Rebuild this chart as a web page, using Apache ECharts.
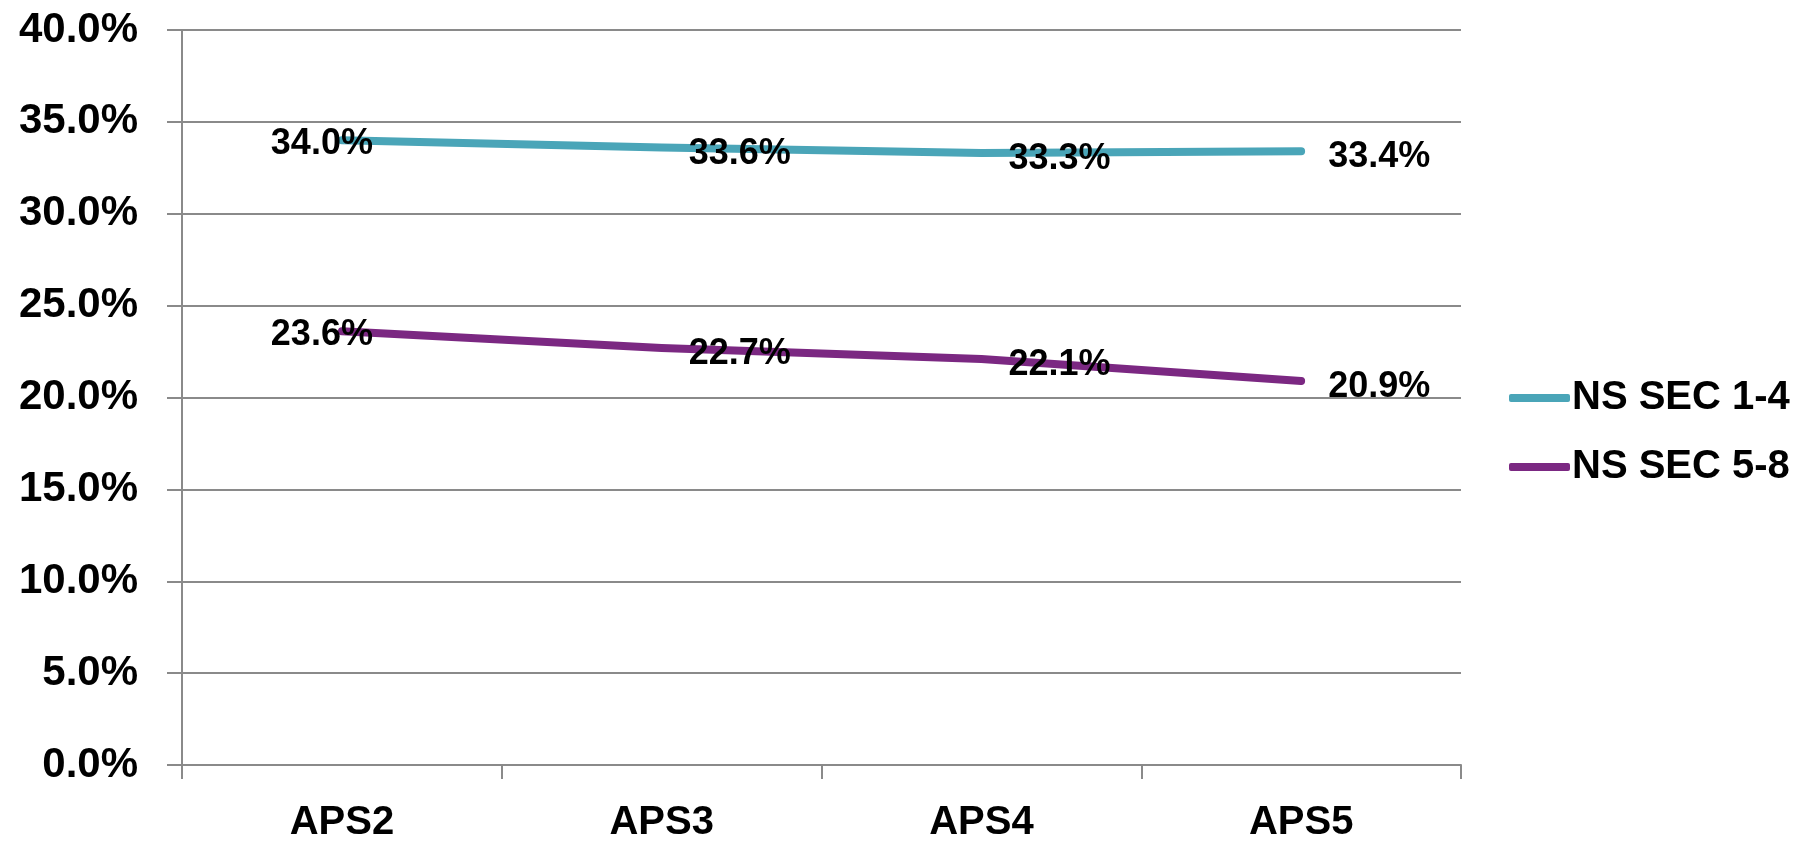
<!DOCTYPE html>
<html>
<head>
<meta charset="utf-8">
<script src="https://cdn.jsdelivr.net/npm/echarts@6/dist/echarts.min.js"></script>
<style>
  html, body { margin: 0; padding: 0; background: #fff; }
  #chart { width: 1804px; height: 843px; }
</style>
</head>
<body>
<div id="chart"></div>
<script>
// Survey waves along the x axis
const categories = ['APS2', 'APS3', 'APS4', 'APS5'];
// Share (%) for each socio-economic group
const nsSec14 = [34.0, 33.6, 33.3, 33.4];
const nsSec58 = [23.6, 22.7, 22.1, 20.9];
const seriesNames = ['NS SEC 1-4', 'NS SEC 5-8'];
const yTicks = { min: 0, max: 40, interval: 5 };

const FONT = '"Liberation Sans Narrow", "Liberation Sans", Arial, sans-serif';
const GRID_GRAY = '#8a8a8a';
const COLORS = ['#4aa5b8', '#7b2882'];

// First point carries its label over the line; the others sit to the right
function withLabels(values) {
  return values.map((v, i) => i === 0
    ? { value: v, label: { position: 'inside', offset: [-20, 4] } }
    : { value: v });
}

function lineSeries(name, values, color) {
  return {
    name: name,
    type: 'line',
    data: withLabels(values),
    symbol: 'circle',
    symbolSize: 2,
    smooth: false,
    itemStyle: { color: color },
    lineStyle: { color: color, width: 8, cap: 'round', join: 'round' },
    label: {
      show: true,
      position: 'right',
      distance: 26,
      offset: [0, 6],
      formatter: p => p.value.toFixed(1) + '%',
      fontFamily: FONT,
      fontWeight: 'bold',
      fontSize: 36,
      color: '#000'
    },
    emphasis: { disabled: true },
    animation: false
  };
}

const chart = echarts.init(document.getElementById('chart'), null, { renderer: 'canvas' });
chart.setOption({
  backgroundColor: '#fff',
  grid: { left: 182, right: 343, top: 30, bottom: 74, containLabel: false },
  legend: {
    orient: 'vertical',
    left: 1504,
    top: 373,
    itemWidth: 61,
    itemHeight: 8,
    itemGap: 29,
    icon: 'roundRect',
    data: seriesNames.map((n, i) => ({
      name: n,
      itemStyle: { color: COLORS[i] },
      lineStyle: { color: COLORS[i], width: 8, cap: 'round' }
    })),
    textStyle: { fontFamily: FONT, fontWeight: 'bold', fontSize: 40, color: '#000', padding: [0, 0, 0, -3] }
  },
  xAxis: {
    type: 'category',
    data: categories,
    boundaryGap: true,
    axisLine: { show: true, lineStyle: { color: GRID_GRAY, width: 2 } },
    axisTick: { show: true, length: 14, lineStyle: { color: GRID_GRAY, width: 2 } },
    axisLabel: { margin: 38, fontFamily: FONT, fontWeight: 'bold', fontSize: 40, color: '#000' }
  },
  yAxis: {
    type: 'value',
    min: yTicks.min,
    max: yTicks.max,
    interval: yTicks.interval,
    axisLine: { show: true, lineStyle: { color: GRID_GRAY, width: 2 } },
    axisTick: { show: true, length: 15, lineStyle: { color: GRID_GRAY, width: 2 } },
    splitLine: { show: true, lineStyle: { color: GRID_GRAY, width: 2 } },
    axisLabel: {
      margin: 44,
      formatter: v => v.toFixed(1) + '%',
      fontFamily: FONT, fontWeight: 'bold', fontSize: 42, color: '#000'
    }
  },
  series: [
    lineSeries(seriesNames[0], nsSec14, COLORS[0]),
    lineSeries(seriesNames[1], nsSec58, COLORS[1])
  ]
});
</script>
</body>
</html>
